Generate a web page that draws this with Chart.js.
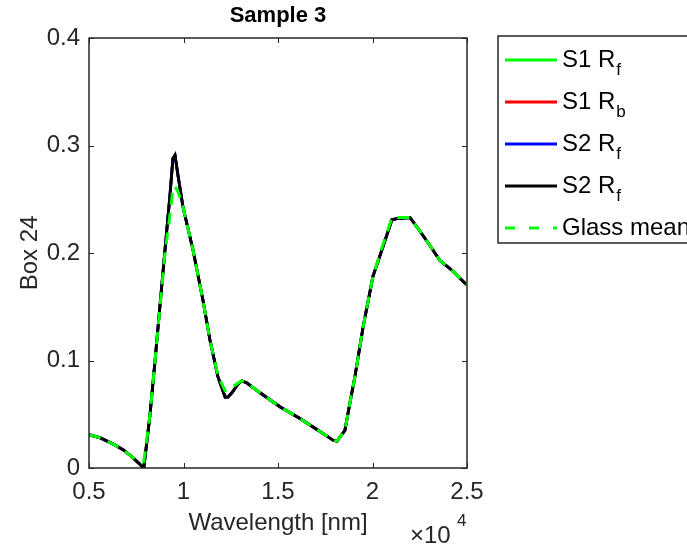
<!DOCTYPE html>
<html>
<head>
<meta charset="utf-8">
<title>Sample 3</title>
<script src="https://cdn.jsdelivr.net/npm/chart.js@4.4.1/dist/chart.umd.min.js"></script>
<style>
  html, body { margin: 0; padding: 0; background: #fff; }
  #wrap { width: 687px; height: 546px; position: relative; }
</style>
</head>
<body>
<div id="wrap"><canvas id="chart" width="687" height="546"></canvas></div>
<script>
// ─── Data ─────────────────────────────────────────────────────────
const wavelengthNm = [
  5000, 5600, 6300, 6800, 7300, 7600, 7900, 8230, 8500, 8760,
  9020, 9280, 9440, 9550, 9710, 9970, 10500, 11030, 11400, 11820,
  12200, 12350, 12560, 12880, 13090, 13360, 14050, 15100, 16160, 17220,
  17900, 18120, 18540, 18800, 19070, 19500, 20020, 20500, 21030, 21300,
  21980, 22400, 23040, 23570, 24200, 25000,
];

// the four sample curves lie on top of each other; black one is drawn last
const sampleRefl = [
  0.031, 0.028, 0.022, 0.017, 0.010, 0.005, 0.000, 0.050, 0.101, 0.152,
  0.203, 0.253, 0.288, 0.291, 0.272, 0.243, 0.203, 0.156, 0.119, 0.085,
  0.066, 0.066, 0.070, 0.078, 0.081, 0.079, 0.070, 0.057, 0.046, 0.034,
  0.026, 0.025, 0.035, 0.060, 0.085, 0.131, 0.178, 0.203, 0.231, 0.232,
  0.233, 0.223, 0.207, 0.193, 0.184, 0.170,
];
const s1Rf = sampleRefl;
const s1Rb = sampleRefl;
const s2RfBlue = sampleRefl;
const s2Rf = sampleRefl;

const glassMean = [
  0.031, 0.028, 0.022, 0.017, 0.010, 0.007, 0.006, 0.050, 0.101, 0.150,
  0.200, 0.235, 0.260, 0.262, 0.257, 0.243, 0.203, 0.156, 0.119, 0.086,
  0.072, 0.073, 0.075, 0.079, 0.081, 0.079, 0.070, 0.057, 0.046, 0.034,
  0.026, 0.025, 0.035, 0.060, 0.085, 0.131, 0.178, 0.205, 0.233, 0.233,
  0.233, 0.223, 0.207, 0.193, 0.184, 0.170,
];

const xTicks = [5000, 10000, 15000, 20000, 25000];
const yTicks = [0, 0.1, 0.2, 0.3, 0.4];

const legendNames = ["S1 R", "S1 R", "S2 R", "S2 R", "Glass mean"];
const legendSubs = ["f", "b", "f", "f", ""];

const FONT = "'Liberation Sans', Arial, Helvetica, sans-serif";
const AXIS_COLOR = "#262626";

const toPoints = (ys) => wavelengthNm.map((x, i) => ({ x, y: ys[i] }));

// ─── Overlay: box, inward ticks, titles, legend ───────────────────
const matlabDecor = {
  id: "matlabDecor",
  afterDraw(chart) {
    const { ctx, chartArea: a, scales } = chart;
    const xs = scales.x;
    const ys = scales.y;
    ctx.save();

    // axes box
    ctx.strokeStyle = AXIS_COLOR;
    ctx.lineWidth = 1.5;
    ctx.strokeRect(a.left, a.top, a.right - a.left, a.bottom - a.top);

    // inward tick marks on all four sides
    ctx.lineWidth = 1;
    ctx.beginPath();
    xTicks.forEach((v) => {
      const px = Math.round(xs.getPixelForValue(v)) + 0.5;
      ctx.moveTo(px, a.bottom); ctx.lineTo(px, a.bottom - 5);
      ctx.moveTo(px, a.top); ctx.lineTo(px, a.top + 5);
    });
    yTicks.forEach((v) => {
      const py = Math.round(ys.getPixelForValue(v)) + 0.5;
      ctx.moveTo(a.left, py); ctx.lineTo(a.left + 5, py);
      ctx.moveTo(a.right, py); ctx.lineTo(a.right - 5, py);
    });
    ctx.stroke();

    // title
    ctx.fillStyle = "#000";
    ctx.textAlign = "center";
    ctx.textBaseline = "middle";
    ctx.font = `bold 22px ${FONT}`;
    ctx.fillText("Sample 3", (a.left + a.right) / 2, 16);

    // x label + exponent
    ctx.fillStyle = AXIS_COLOR;
    ctx.font = `24px ${FONT}`;
    ctx.fillText("Wavelength [nm]", (a.left + a.right) / 2, 523);
    ctx.textAlign = "left";
    ctx.fillText("\u00d710", 410, 536);
    ctx.font = `17px ${FONT}`;
    ctx.fillText("4", 457, 521);

    // y label
    ctx.save();
    ctx.translate(30, (a.top + a.bottom) / 2);
    ctx.rotate(-Math.PI / 2);
    ctx.textAlign = "center";
    ctx.font = `24px ${FONT}`;
    ctx.fillText("Box 24", 0, 0);
    ctx.restore();

    // legend (clipped at right edge like the original)
    ctx.fillStyle = "#fff";
    ctx.fillRect(498, 36, 200, 207);
    ctx.strokeStyle = AXIS_COLOR;
    ctx.lineWidth = 1.5;
    ctx.strokeRect(498, 36, 200, 207);

    chart.data.datasets.forEach((ds, i) => {
      const y = 60 + i * 42;
      ctx.strokeStyle = ds.borderColor;
      ctx.lineWidth = 3;
      ctx.setLineDash(ds.borderDash ? [10, 14] : []);
      ctx.beginPath();
      ctx.moveTo(505, y);
      ctx.lineTo(557, y);
      ctx.stroke();
      ctx.setLineDash([]);

      ctx.fillStyle = "#000";
      ctx.textAlign = "left";
      ctx.textBaseline = "middle";
      ctx.font = `24px ${FONT}`;
      ctx.fillText(legendNames[i], 562, y);
      if (legendSubs[i]) {
        const w = ctx.measureText(legendNames[i]).width;
        ctx.font = `17px ${FONT}`;
        ctx.fillText(legendSubs[i], 562 + w + 1, y + 10);
      }
    });

    ctx.restore();
  },
};

// ─── Chart ────────────────────────────────────────────────────────
const line = (label, data, color, order, extra = {}) => ({
  label,
  data: toPoints(data),
  borderColor: color,
  backgroundColor: color,
  borderWidth: 2.8,
  pointRadius: 0,
  tension: 0,
  fill: false,
  order,
  ...extra,
});

new Chart(document.getElementById("chart"), {
  type: "line",
  data: {
    datasets: [
      line("S1 Rf", s1Rf, "#00ff00", 4),
      line("S1 Rb", s1Rb, "#ff0000", 3),
      line("S2 Rf", s2RfBlue, "#0000ff", 2),
      line("S2 Rf", s2Rf, "#000000", 1),
      line("Glass mean", glassMean, "#00ff00", 0, { borderDash: [12, 8], borderWidth: 3 }),
    ],
  },
  options: {
    responsive: false,
    animation: false,
    layout: { padding: { top: 38, right: 220, left: 0, bottom: 0 } },
    plugins: {
      legend: { display: false },
      title: { display: false },
      tooltip: { enabled: false },
    },
    scales: {
      x: {
        type: "linear",
        min: 5000,
        max: 25000,
        afterBuildTicks: (s) => { s.ticks = xTicks.map((v) => ({ value: v })); },
        afterFit: (s) => { s.height = 78; },
        grid: { display: false, drawTicks: false },
        border: { display: false },
        ticks: {
          padding: 10,
          color: AXIS_COLOR,
          font: { family: FONT, size: 24 },
          maxRotation: 0,
          callback: (v) => String(v / 1e4),
        },
      },
      y: {
        type: "linear",
        min: 0,
        max: 0.4,
        afterBuildTicks: (s) => { s.ticks = yTicks.map((v) => ({ value: v })); },
        afterFit: (s) => { s.width = 89; },
        grid: { display: false, drawTicks: false },
        border: { display: false },
        ticks: {
          padding: 9,
          color: AXIS_COLOR,
          font: { family: FONT, size: 24 },
          callback: (v) => (v === 0 ? "0" : v.toFixed(1)),
        },
      },
    },
  },
  plugins: [matlabDecor],
});
</script>
</body>
</html>
